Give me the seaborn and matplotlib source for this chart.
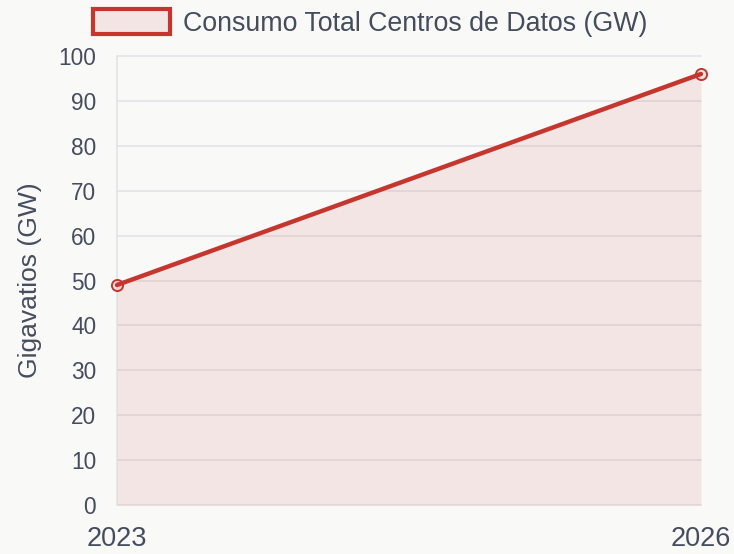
import matplotlib
matplotlib.use("Agg")
from matplotlib import pyplot as plt
from matplotlib.patches import Patch
import seaborn as sns
import pandas as pd

years = [2023, 2026]
consumo_gw = [49, 96]
y_ticks = list(range(0, 101, 10))
serie = "Consumo Total Centros de Datos (GW)"
eje_y = "Gigavatios (GW)"

bg = "#f9f9f8"
rojo = "#c5362f"
relleno = (197 / 255, 54 / 255, 47 / 255, 0.1)
texto = "#454c5c"
rejilla = "#e4e3e8"

sns.set_theme(style="white")
plt.rcParams["font.family"] = ["Liberation Sans", "DejaVu Sans"]

df = pd.DataFrame({"year": years, "gw": consumo_gw})

fig = plt.figure(figsize=(7.34, 5.54), dpi=100, facecolor=bg)
ax = fig.add_axes([117 / 734, 49 / 554, 584 / 734, 449 / 554])
ax.set_facecolor(bg)

for t in y_ticks:
    ax.axhline(t, color=rejilla, lw=1.2, zorder=0)
ax.axvline(years[0], color=rejilla, lw=1.2, zorder=0)

ax.fill_between(df["year"], df["gw"], 0, color=relleno, lw=0, zorder=1)
sns.lineplot(data=df, x="year", y="gw", ax=ax, color=rojo, lw=3.2,
             marker="o", markersize=8, markerfacecolor=relleno,
             markeredgecolor=rojo, markeredgewidth=1.4, zorder=3)
for ln in ax.lines:
    ln.set_clip_on(False)

ax.set_xlim(years[0], years[-1])
ax.set_ylim(0, 100)
ax.set_xticks(years)
ax.set_xticklabels([str(y) for y in years])
ax.set_yticks(y_ticks)
for s in ax.spines.values():
    s.set_visible(False)
ax.tick_params(axis="y", length=10, color=rejilla, width=1.2, pad=5,
               labelsize=16.3, labelcolor=texto)
ax.tick_params(axis="x", length=0, pad=15, labelsize=19.5, labelcolor=texto)
ax.set_xlabel("")
ax.set_ylabel(eje_y, fontsize=19, color=texto, labelpad=12)

handle = Patch(facecolor=relleno, edgecolor=rojo, linewidth=3)
fig.legend([handle], [serie], loc="center", bbox_to_anchor=(370 / 734, 1 - 23 / 554),
           frameon=False, fontsize=19.3, labelcolor=texto, handlelength=2.87,
           handleheight=1.05, handletextpad=0.5)

fig.savefig("out.png", dpi=100, facecolor=bg)
